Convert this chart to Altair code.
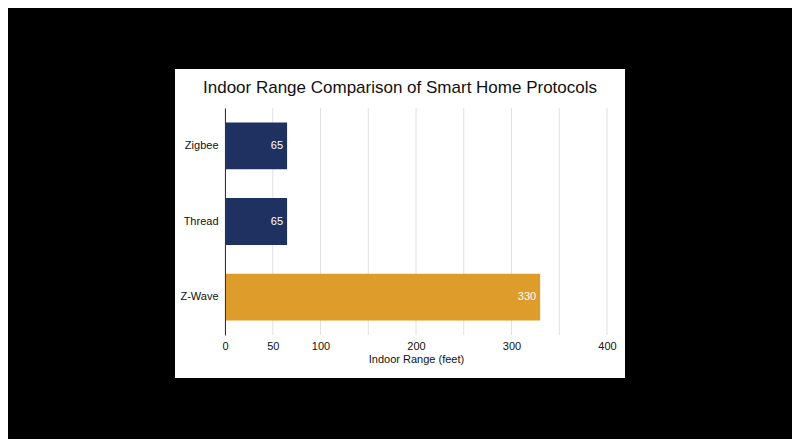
import altair as alt
import pandas as pd

protocols = ["Zigbee", "Thread", "Z-Wave"]
ranges = [65, 65, 330]
colors = ["#1f3161", "#1f3161", "#de9c2a"]
grid_values = [0, 50, 100, 150, 200, 250, 300, 350, 400]
tick_labels = [0, 50, 100, 200, 300, 400]

W, H = 382, 227
FONT = "Liberation Sans"

df = pd.DataFrame({"protocol": protocols, "range": ranges, "color": colors})
grid_df = pd.DataFrame({"v": grid_values})

xscale = alt.Scale(domain=[0, 400], nice=False)
yscale = alt.Scale(domain=protocols, paddingInner=0.38, paddingOuter=0.19)

# white card behind the chart
card = alt.Chart(pd.DataFrame({"a": [0]})).mark_rect(color="white").encode(
    x=alt.value(-50), x2=alt.value(W + 18), y=alt.value(-39), y2=alt.value(H + 43)
)

grid = alt.Chart(grid_df).mark_rule(color="#e0e0e0", strokeWidth=1).encode(
    x=alt.X("v:Q", scale=xscale,
            axis=alt.Axis(values=tick_labels, grid=False, domain=False, ticks=False,
                          labelFlush=False, labelPadding=5, title="Indoor Range (feet)",
                          titlePadding=2, labelFontSize=11, titleFontSize=11,
                          labelFont=FONT, titleFont=FONT,
                          labelColor="#111", titleColor="#111", titleFontWeight="normal",
                          zindex=1)),
    y=alt.value(0), y2=alt.value(H),
)

bars = alt.Chart(df).mark_bar().encode(
    y=alt.Y("protocol:N", sort=protocols, scale=yscale,
            axis=alt.Axis(title=None, ticks=False, domain=True, domainColor="#333",
                          domainWidth=1, labelPadding=7, labelFontSize=11, labelFont=FONT,
                          labelColor="#111", zindex=1)),
    x=alt.X("range:Q", scale=xscale),
    color=alt.Color("color:N", scale=None),
)

labels = alt.Chart(df).mark_text(align="right", dx=-4, color="white", fontSize=11, font=FONT).encode(
    y=alt.Y("protocol:N", sort=protocols, scale=yscale),
    x=alt.X("range:Q", scale=xscale),
    text=alt.Text("range:Q"),
)

chart = alt.layer(card, grid, bars, labels).properties(
    width=W,
    height=H,
    background="black",
    padding={"left": 167, "top": 61, "right": 167, "bottom": 61},
    title=alt.TitleParams(
        "Indoor Range Comparison of Smart Home Protocols",
        fontSize=17, font=FONT, fontWeight="normal", color="#111",
        anchor="middle", frame="bounds", offset=-24, baseline="bottom", dy=21,
    ),
).configure_view(stroke=None)

chart.save("out.html", embed_options={"renderer": "svg", "actions": False})
